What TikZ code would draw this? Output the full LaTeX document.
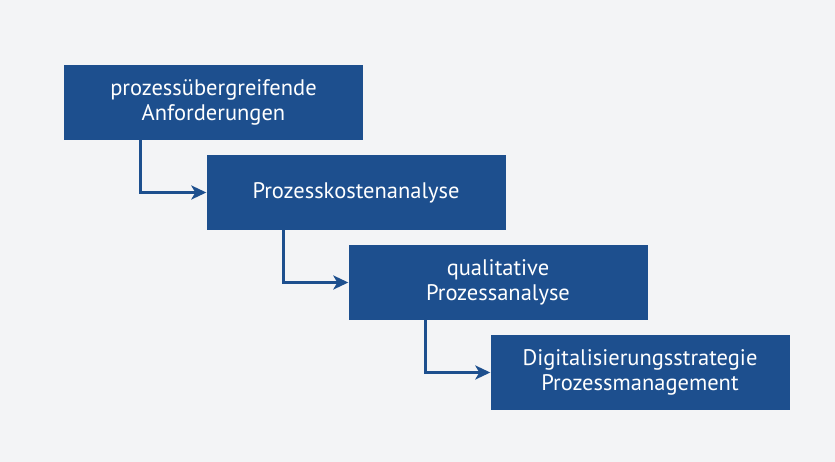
\documentclass[tikz,border=0pt]{standalone}
\usepackage{fontspec}
\setmainfont{PT Sans}
\usetikzlibrary{arrows.meta}
\definecolor{boxblue}{HTML}{1D4F8E}
\definecolor{bg}{HTML}{F3F4F6}
\begin{document}
\begin{tikzpicture}[x=1pt,y=-1pt,
  procbox/.style={fill=boxblue, text=white, minimum width=299pt, minimum height=75pt,
    inner sep=0pt, align=center, font=\fontsize{22.5}{25.5}\selectfont},
  flowarrow/.style={draw=boxblue, line width=3pt,
    -{Stealth[length=15pt,width=14pt,inset=4pt]}}]
\fill[bg] (0,0) rectangle (835,462);
\useasboundingbox (0,0) rectangle (835,462);
\node[procbox] (b1) at (213.5,102.5) {prozessübergreifende\\Anforderungen};
\node[procbox] (b2) at (356,192.5) {Prozesskostenanalyse};
\node[procbox] (b3) at (498,282.5) {qualitative\\Prozessanalyse};
\node[procbox] (b4) at (640,372.5) {Digitalisierungsstrategie\\Prozessmanagement};
\draw[flowarrow] ([xshift=77pt]b1.south west) |- (b2.west);
\draw[flowarrow] ([xshift=77pt]b2.south west) |- (b3.west);
\draw[flowarrow] ([xshift=77pt]b3.south west) |- (b4.west);
\end{tikzpicture}
\end{document}
